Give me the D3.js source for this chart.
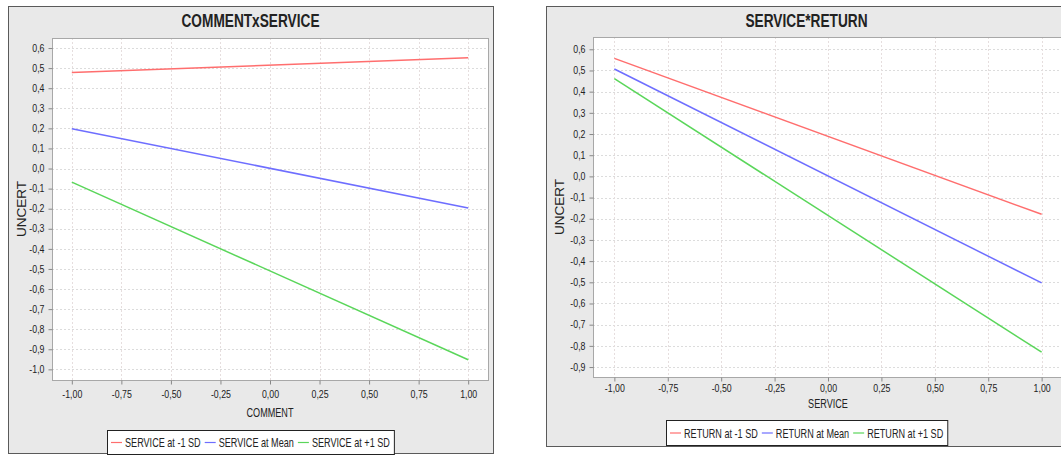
<!DOCTYPE html>
<html>
<head>
<meta charset="utf-8">
<script src="https://cdn.jsdelivr.net/npm/d3@7"></script>
<style>
  body { margin: 0; background: #fff; }
  text { font-family: "Liberation Sans", Arial, sans-serif; fill: #222; }
</style>
</head>
<body>
<svg width="1061" height="456"></svg>
<script>
// ---- data ----
const xTicks = [-1, -0.75, -0.5, -0.25, 0, 0.25, 0.5, 0.75, 1];
const xEnds = [-1, 1];
const yLabel = "UNCERT";
const colors = ["#ff6e6e", "#6e6eff", "#5ad65a"];

const leftTitle = "COMMENTxSERVICE";
const leftXLabel = "COMMENT";
const leftSeries = ["SERVICE at -1 SD", "SERVICE at Mean", "SERVICE at +1 SD"];
const leftStart = [0.478, 0.198, -0.068];
const leftEnd = [0.552, -0.196, -0.952];
const leftYTicks = [0.6, 0.5, 0.4, 0.3, 0.2, 0.1, 0, -0.1, -0.2, -0.3, -0.4, -0.5, -0.6, -0.7, -0.8, -0.9, -1.0];

const rightTitle = "SERVICE*RETURN";
const rightXLabel = "SERVICE";
const rightSeries = ["RETURN at -1 SD", "RETURN at Mean", "RETURN at +1 SD"];
const rightStart = [0.557, 0.507, 0.461];
const rightEnd = [-0.179, -0.503, -0.83];
const rightYTicks = [0.6, 0.5, 0.4, 0.3, 0.2, 0.1, 0, -0.1, -0.2, -0.3, -0.4, -0.5, -0.6, -0.7, -0.8, -0.9];

const svg = d3.select("svg");

const comma = f => v => f(v).replace(".", ",").replace("−", "-");
const fmtX = comma(d3.format(".2f"));
const fmtY = comma(d3.format(".1f"));

// the original picture is squeezed sideways, so narrow the glyphs too
function squeeze(sel, k) {
  sel.each(function () {
    const t = d3.select(this);
    const x = +t.attr("x") || 0;
    const y = +t.attr("y") || 0;
    t.attr("x", 0).attr("y", 0)
      .attr("transform", `translate(${x},${y}) scale(${k},1)`);
  });
  return sel;
}

function drawPanel(o) {
  const g = svg.append("g");

  g.append("rect")
    .attr("x", o.box[0] + 0.5).attr("y", o.box[1] + 0.5)
    .attr("width", o.box[2]).attr("height", o.box[3])
    .attr("fill", "#e9e9e9").attr("stroke", "#5a5a5a");

  g.append("text")
    .attr("x", o.box[0] + o.box[2] / 2).attr("y", o.titleY)
    .attr("text-anchor", "middle")
    .attr("font-size", 19).attr("font-weight", "bold")
    .attr("fill", "#000")
    .text(o.title)
    .call(squeeze, 0.72);

  const x = d3.scaleLinear().domain([-1.1, 1.1]).range([o.plot[0], o.plot[1]]);
  const y = d3.scaleLinear().domain(o.yDomain).range([o.plot[3], o.plot[2]]);

  g.append("rect")
    .attr("x", o.plot[0]).attr("y", o.plot[2])
    .attr("width", o.plot[1] - o.plot[0]).attr("height", o.plot[3] - o.plot[2])
    .attr("fill", "#fff");

  // grid
  g.append("g").selectAll("line").data(o.yTicks).join("line")
    .attr("x1", o.plot[0]).attr("x2", o.plot[1])
    .attr("y1", d => Math.round(y(d)) + 0.5).attr("y2", d => Math.round(y(d)) + 0.5)
    .attr("stroke", "#dcdcdc").attr("stroke-dasharray", "2,2");
  g.append("g").selectAll("line").data(xTicks).join("line")
    .attr("y1", o.plot[2]).attr("y2", o.plot[3])
    .attr("x1", d => Math.round(x(d)) + 0.5).attr("x2", d => Math.round(x(d)) + 0.5)
    .attr("stroke", "#e6dede").attr("stroke-dasharray", "2,2");

  g.append("rect")
    .attr("x", o.plot[0] + 0.5).attr("y", o.plot[2] + 0.5)
    .attr("width", o.plot[1] - o.plot[0]).attr("height", o.plot[3] - o.plot[2])
    .attr("fill", "none").attr("stroke", "#a8a8a8");

  // axes
  const yAxis = d3.axisLeft(y).tickValues(o.yTicks).tickFormat(fmtY).tickSize(4).tickPadding(4);
  const ya = g.append("g").attr("transform", `translate(${o.plot[0] + 0.5},0)`).call(yAxis);
  ya.select(".domain").remove();
  ya.selectAll("line").attr("stroke", "#888");
  ya.selectAll("text").attr("font-size", 10).attr("font-family", null).attr("fill", "#333").call(squeeze, 0.88);

  const xAxis = d3.axisBottom(x).tickValues(xTicks).tickFormat(fmtX).tickSize(4).tickPadding(o.xPad);
  const xa = g.append("g").attr("transform", `translate(0,${o.plot[3] + 0.5})`).call(xAxis);
  xa.select(".domain").remove();
  xa.selectAll("line").attr("stroke", "#888");
  xa.selectAll("text").attr("font-size", 10).attr("font-family", null).attr("fill", "#333").call(squeeze, 0.88);

  g.append("text")
    .attr("x", (o.plot[0] + o.plot[1]) / 2).attr("y", o.xTitleY)
    .attr("text-anchor", "middle").attr("font-size", 13).attr("fill", "#333")
    .text(o.xLabel)
    .call(squeeze, 0.7);

  g.append("text")
    .attr("transform", `translate(${o.box[0] + 18},${(o.plot[2] + o.plot[3]) / 2}) rotate(-90)`)
    .attr("text-anchor", "middle").attr("font-size", 13.5).attr("fill", "#333")
    .text(yLabel);

  // lines
  const line = d3.line().x(d => x(d[0])).y(d => y(d[1]));
  g.append("g").selectAll("path").data(o.series).join("path")
    .attr("d", (d, i) => line([[xEnds[0], o.start[i]], [xEnds[1], o.end[i]]]))
    .attr("fill", "none")
    .attr("stroke", (d, i) => colors[i])
    .attr("stroke-width", 1.5);

  // legend
  const lg = g.append("g");
  const bg = lg.append("rect").attr("fill", "#fff").attr("stroke", "#222");
  const k = 0.7;
  let cx = 4;
  o.series.forEach((s, i) => {
    lg.append("line")
      .attr("x1", cx).attr("x2", cx + 11)
      .attr("y1", o.legend[1] / 2 + 0.5).attr("y2", o.legend[1] / 2 + 0.5)
      .attr("stroke", colors[i]).attr("stroke-width", 1.2);
    const t = lg.append("text")
      .attr("x", cx + 14).attr("y", o.legend[1] / 2 + 5)
      .attr("font-size", 13).attr("fill", "#222")
      .text(s);
    const w = t.node().getComputedTextLength() * k;
    t.call(squeeze, k);
    cx += 14 + w + 4;
  });
  const lw = cx;
  bg.attr("x", 0.5).attr("y", 0.5).attr("width", lw).attr("height", o.legend[1]);
  lg.attr("transform", `translate(${Math.round(o.box[0] + o.box[2] / 2 - lw / 2)},${o.legend[0]})`);
}

drawPanel({
  box: [8, 6, 485, 447],
  plot: [52, 488, 38, 380],
  yDomain: [-1.053, 0.65],
  yTicks: leftYTicks,
  title: leftTitle,
  titleY: 27,
  xLabel: leftXLabel,
  xPad: 6,
  xTitleY: 417,
  legend: [430, 24],
  series: leftSeries,
  start: leftStart,
  end: leftEnd
});

drawPanel({
  box: [546, 6, 521, 440],
  plot: [593, 1063, 37, 377],
  yDomain: [-0.947, 0.658],
  yTicks: rightYTicks,
  title: rightTitle,
  titleY: 27,
  xLabel: rightXLabel,
  xPad: 3,
  xTitleY: 408,
  legend: [420, 25],
  series: rightSeries,
  start: rightStart,
  end: rightEnd
});
</script>
</body>
</html>
